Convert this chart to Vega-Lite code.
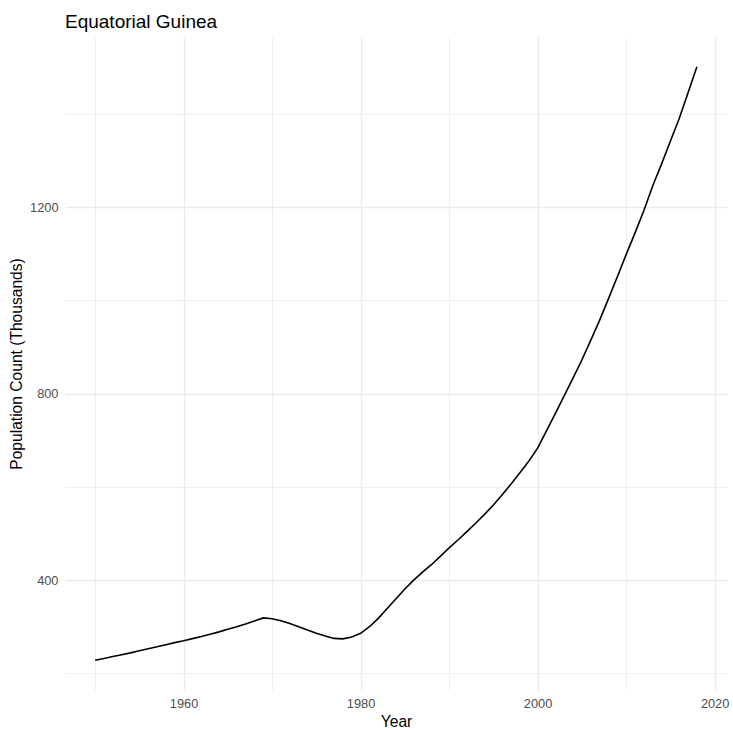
{
  "$schema": "https://vega.github.io/schema/vega-lite/v6.json",
  "autosize": {"type": "none"},
  "width": 662,
  "height": 653,
  "padding": {"left": 65, "top": 37, "right": 6, "bottom": 40},
  "background": "white",
  "title": {
    "text": "Equatorial Guinea",
    "anchor": "start",
    "frame": "group",
    "baseline": "alphabetic",
    "offset": -10,
    "font": "Liberation Sans",
    "fontSize": 19,
    "fontWeight": "normal",
    "color": "#000000"
  },
  "config": {
    "view": {"stroke": null},
    "axis": {
      "domain": false,
      "ticks": false,
      "tickSize": 0,
      "labelFont": "Liberation Sans",
      "labelFontSize": 12.8,
      "labelColor": "#4D4D4D",
      "titleFont": "Liberation Sans",
      "titleFontSize": 15.6,
      "titleFontWeight": "normal",
      "titleColor": "#000000",
      "gridColor": "#EBEBEB"
    }
  },
  "data": {
    "values": [
      {"year": 1950, "pop": 228}, {"year": 1951, "pop": 232}, {"year": 1952, "pop": 236},
      {"year": 1953, "pop": 240}, {"year": 1954, "pop": 244}, {"year": 1955, "pop": 248.5},
      {"year": 1956, "pop": 253}, {"year": 1957, "pop": 257}, {"year": 1958, "pop": 261.5},
      {"year": 1959, "pop": 266}, {"year": 1960, "pop": 270}, {"year": 1961, "pop": 274.5},
      {"year": 1962, "pop": 279}, {"year": 1963, "pop": 284}, {"year": 1964, "pop": 289},
      {"year": 1965, "pop": 294.5}, {"year": 1966, "pop": 300}, {"year": 1967, "pop": 306},
      {"year": 1968, "pop": 312.5}, {"year": 1969, "pop": 319}, {"year": 1970, "pop": 317},
      {"year": 1971, "pop": 313}, {"year": 1972, "pop": 307}, {"year": 1973, "pop": 300},
      {"year": 1974, "pop": 293}, {"year": 1975, "pop": 286}, {"year": 1976, "pop": 280},
      {"year": 1977, "pop": 275}, {"year": 1978, "pop": 274}, {"year": 1979, "pop": 278},
      {"year": 1980, "pop": 286}, {"year": 1981, "pop": 300}, {"year": 1982, "pop": 318},
      {"year": 1983, "pop": 339}, {"year": 1984, "pop": 360}, {"year": 1985, "pop": 381},
      {"year": 1986, "pop": 400}, {"year": 1987, "pop": 417}, {"year": 1988, "pop": 433},
      {"year": 1989, "pop": 451}, {"year": 1990, "pop": 469}, {"year": 1991, "pop": 486},
      {"year": 1992, "pop": 504}, {"year": 1993, "pop": 522}, {"year": 1994, "pop": 541},
      {"year": 1995, "pop": 561}, {"year": 1996, "pop": 583}, {"year": 1997, "pop": 606},
      {"year": 1998, "pop": 630}, {"year": 1999, "pop": 655}, {"year": 2000, "pop": 683},
      {"year": 2001, "pop": 720}, {"year": 2002, "pop": 757}, {"year": 2003, "pop": 795},
      {"year": 2004, "pop": 833}, {"year": 2005, "pop": 872}, {"year": 2006, "pop": 914},
      {"year": 2007, "pop": 957}, {"year": 2008, "pop": 1003}, {"year": 2009, "pop": 1050},
      {"year": 2010, "pop": 1098}, {"year": 2011, "pop": 1144}, {"year": 2012, "pop": 1192},
      {"year": 2013, "pop": 1245}, {"year": 2014, "pop": 1292}, {"year": 2015, "pop": 1341},
      {"year": 2016, "pop": 1390}, {"year": 2017, "pop": 1445}, {"year": 2018, "pop": 1501}
    ]
  },
  "mark": {"type": "line", "color": "#000000", "strokeWidth": 1.6, "clip": true},
  "encoding": {
    "x": {
      "field": "year",
      "type": "quantitative",
      "scale": {"domain": [1946.6, 2021.4], "nice": false, "zero": false},
      "axis": {
        "title": "Year",
        "values": [1950, 1960, 1970, 1980, 1990, 2000, 2010, 2020],
        "labelExpr": "datum.value % 20 === 0 ? datum.value : ''",
        "labelPadding": 7,
        "titlePadding": 5,
        "gridWidth": {"condition": {"test": "datum.value % 20 === 0", "value": 1.4}, "value": 0.8}
      }
    },
    "y": {
      "field": "pop",
      "type": "quantitative",
      "scale": {"domain": [164.35, 1564.65], "nice": false, "zero": false},
      "axis": {
        "title": "Population Count (Thousands)",
        "values": [200, 400, 600, 800, 1000, 1200, 1400],
        "labelExpr": "datum.value % 400 === 0 ? datum.value : ''",
        "labelPadding": 7,
        "titlePadding": 5,
        "gridWidth": {"condition": {"test": "datum.value % 400 === 0", "value": 1.4}, "value": 0.8}
      }
    }
  }
}
